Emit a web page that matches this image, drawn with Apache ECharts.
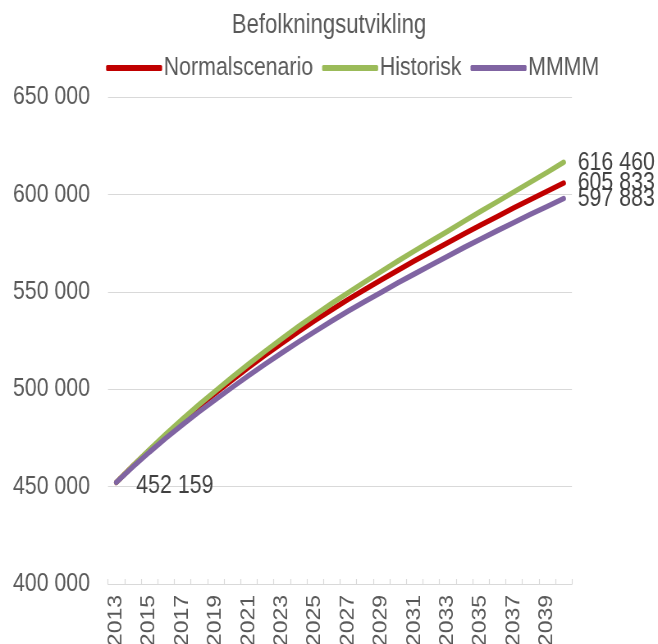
<!DOCTYPE html>
<html>
<head>
<meta charset="utf-8">
<script src="https://cdn.jsdelivr.net/npm/echarts@6/dist/echarts.min.js"></script>
<style>
html,body{margin:0;padding:0;background:#fff;overflow:hidden}
#wrap{width:658px;height:644px;overflow:hidden;position:relative}
#c{width:802px;height:644px;transform:scaleX(0.8204);transform-origin:0 0}
</style>
</head>
<body>
<div id="wrap"><div id="c"></div></div>
<script>
const title = 'Befolkningsutvikling';
const years = ['2013','2014','2015','2016','2017','2018','2019','2020','2021','2022','2023','2024','2025','2026','2027','2028','2029','2030','2031','2032','2033','2034','2035','2036','2037','2038','2039','2040'];
const seriesNames = ['Normalscenario','Historisk','MMMM'];
const normalscenario = [452159,460600,468700,476500,484000,491200,498100,504800,511300,517600,523700,529600,535300,540800,546100,551200,556200,561100,565900,570600,575200,579800,584300,588700,593100,597400,601600,605833];
const historisk = [452159,460700,469000,477000,484700,492100,499200,506200,513000,519600,526000,532200,538200,544000,549600,555100,560500,565800,571000,576100,581100,586300,591300,596300,601300,606300,611300,616460];
const mmmm = [452159,460100,467700,474900,481800,488400,494800,501000,507100,513000,518700,524300,529700,535000,540100,545000,549800,554600,559200,563800,568300,572800,577100,581400,585600,589800,593800,597883];
const yTicks = [400000,450000,500000,550000,600000,650000];

const colors = ['#C00000','#9BBB59','#8064A2'];
const FONT = '"Liberation Sans", Arial, sans-serif';
// horizontal compression applied to the container (narrow-font look)
const SX = 0.8204;
const h = px => px / SX;
function fmt(v){ return String(v).replace(/\B(?=(\d{3})+(?!\d))/g, ' '); }

function makeData(arr, showFirst){
  return arr.map((v,i)=>{
    const last = i === arr.length-1;
    const first = i === 0 && showFirst;
    if (last || first) {
      return {value: v, label: {show: true, position: 'right', distance: first ? h(20) : h(14),
        formatter: p => fmt(p.value), color: '#404040', fontSize: 26, fontFamily: FONT,
        offset: first ? [0, 3] : [0, 0]}};
    }
    return v;
  });
}

const chart = echarts.init(document.getElementById('c'), null, {renderer:'canvas'});
const lineStyle = {width: 5.5, cap:'round', join:'round'};
chart.setOption({
  animation: false,
  color: colors,
  title: {text: title, left: 'center', top: 7, textStyle: {color:'#595959', fontSize: 27, fontWeight:'normal', fontFamily: FONT}},
  legend: {
    data: seriesNames, left: h(102), top: 50, icon: 'roundRect', itemWidth: h(56), itemHeight: 6, itemGap: h(9),
    textStyle: {color:'#595959', fontSize: 26, fontFamily: FONT, padding: [0,0,0,-3]}
  },
  grid: {left: h(108), right: h(86), top: 97, bottom: 60, containLabel: false, outerBoundsMode: 'none'},
  xAxis: {
    type: 'category', data: years, boundaryGap: true,
    axisLine: {lineStyle: {color:'#D9D9D9', width: 1.2}},
    axisTick: {show: true, inside: true, length: 5, interval: 0, lineStyle: {color:'#D9D9D9', width: 1.2}},
    axisLabel: {interval: 1, rotate: 90, color:'#595959', fontSize: 23, fontFamily: FONT, margin: 11}
  },
  yAxis: {
    type: 'value', min: yTicks[0], max: yTicks[yTicks.length-1], interval: 50000,
    axisLine: {show: false}, axisTick: {show: false},
    splitLine: {lineStyle: {color:'#D9D9D9', width: 1.2}},
    axisLabel: {color:'#595959', fontSize: 26, fontFamily: FONT, margin: h(18), formatter: v => fmt(v)}
  },
  series: [
    {name: seriesNames[0], type: 'line', data: makeData(normalscenario, true), symbol: 'circle', symbolSize: 0, showSymbol: true, lineStyle: lineStyle, itemStyle:{color: colors[0]}},
    {name: seriesNames[1], type: 'line', data: makeData(historisk, false), symbol: 'circle', symbolSize: 0, showSymbol: true, lineStyle: lineStyle, itemStyle:{color: colors[1]}},
    {name: seriesNames[2], type: 'line', data: makeData(mmmm, false), symbol: 'circle', symbolSize: 0, showSymbol: true, lineStyle: lineStyle, itemStyle:{color: colors[2]}}
  ]
});
</script>
</body>
</html>
